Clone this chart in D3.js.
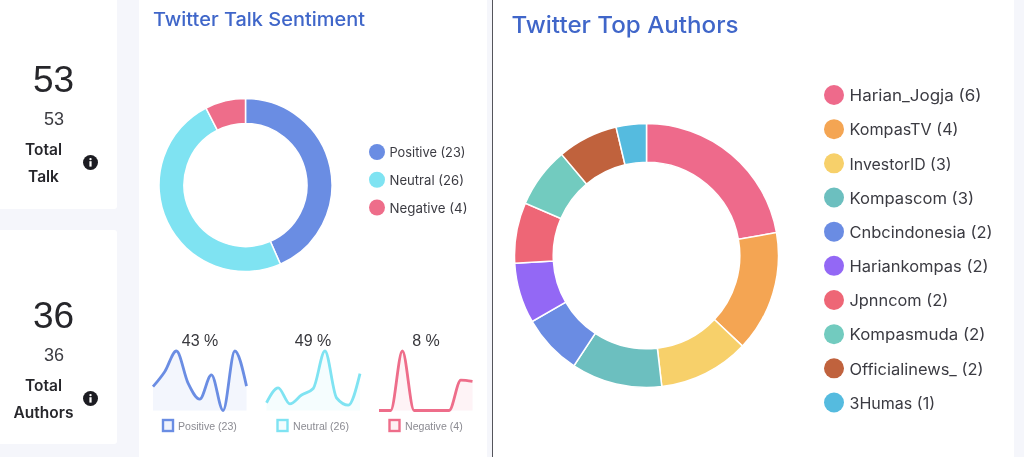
<!DOCTYPE html>
<html>
<head>
<meta charset="utf-8">
<title>Twitter dashboard</title>
<script src="https://d3js.org/d3.v7.min.js"></script>
<style>
	html, body { margin: 0; padding: 0; background: #f5f6fb; overflow: hidden; }
	svg { display: block; }
	.poppins { font-family: Inter, "Noto Sans", sans-serif; }
	.helv { font-family: "Liberation Sans", Arial, sans-serif; }
</style>
</head>
<body>
<div id="chart"></div>
<script>
	// sentiment
	var sentimentNames = ["Positive", "Neutral", "Negative"];
	var sentimentCounts = [23, 26, 4];
	var sentimentColors = ["#6b8de3", "#7fe3f2", "#ee6d8a"];
	var sentimentPercents = ["43 %", "49 %", "8 %"];

	// little area charts under the sentiment donut
	var sparkPositive = [40, 65, 100, 46, 19, 60, 0, 100, 41];
	var sparkNeutral = [13, 38, 11, 26, 37, 100, 21, 9, 62];
	var sparkNegative = [0, 0, 100, 0, 0, 0, 0, 51, 49];
	var sparkSeries = [sparkPositive, sparkNeutral, sparkNegative];

	// authors
	var authorNames = ["Harian_Jogja", "KompasTV", "InvestorID", "Kompascom", "Cnbcindonesia", "Hariankompas", "Jpnncom", "Kompasmuda", "Officialinews_", "3Humas"];
	var authorCounts = [6, 4, 3, 3, 2, 2, 2, 2, 2, 1];
	var authorColors = ["#ee6a8b", "#f4a553", "#f7d06b", "#6cbfbf", "#6b8ce3", "#9368f5", "#ee6676", "#72cbbf", "#c0623e", "#55bbdf"];

	// stat cards
	var statValues = [53, 36];
	var statLabels = [["Total", "Talk"], ["Total", "Authors"]];

	var W = 1024, H = 457;
	var svg = d3.select("#chart").append("svg").attr("width", W).attr("height", H);

	var defs = svg.append("defs");
	var blur = defs.append("filter").attr("id", "soft").attr("x", "-5%").attr("y", "-5%").attr("width", "110%").attr("height", "110%");
	blur.append("feGaussianBlur").attr("stdDeviation", 0.45);

	// panels
	svg.append("rect").attr("width", W).attr("height", H).attr("fill", "#f5f6fb");
	svg.append("rect").attr("x", -10).attr("y", -10).attr("width", 127).attr("height", 219).attr("rx", 3).attr("fill", "#fff");
	svg.append("rect").attr("x", -10).attr("y", 230).attr("width", 127).attr("height", 214).attr("rx", 3).attr("fill", "#fff");
	svg.append("rect").attr("x", 139).attr("y", -5).attr("width", 348).attr("height", H + 10).attr("fill", "#fff");
	svg.append("rect").attr("x", 493).attr("y", -5).attr("width", 521).attr("height", H + 10).attr("fill", "#fff");
	svg.append("line").attr("x1", 492.5).attr("x2", 492.5).attr("y1", 0).attr("y2", H).attr("stroke", "#55555c").attr("stroke-width", 1);

	var g = svg.append("g").attr("filter", "url(#soft)");

	// stat cards
	var statY = [0, 236];
	statValues.forEach(function(v, i) {
		var y = statY[i];
		g.append("text").attr("class", "helv").attr("x", 53.5).attr("y", y + 91.5).attr("text-anchor", "middle")
			.attr("font-size", 37).attr("fill", "#26262b").text(v);
		g.append("text").attr("class", "helv").attr("x", 54).attr("y", y + 124.5).attr("text-anchor", "middle")
			.attr("font-size", 18).attr("fill", "#3c3c42").text(v);
		statLabels[i].forEach(function(t, j) {
			g.append("text").attr("class", "poppins").attr("x", 43.5).attr("y", y + 154.5 + j * 27).attr("text-anchor", "middle")
				.attr("font-size", 15.5).attr("font-weight", 600).attr("fill", "#26262b").text(t);
		});
		var cx = 90.5, cy = y + 162.5;
		g.append("circle").attr("cx", cx).attr("cy", cy).attr("r", 7.5).attr("fill", "#1c1c20");
		g.append("circle").attr("cx", cx).attr("cy", cy - 3.4).attr("r", 1.2).attr("fill", "#fff");
		g.append("rect").attr("x", cx - 1.1).attr("y", cy - 1.3).attr("width", 2.2).attr("height", 5.4).attr("fill", "#fff");
	});

	function title(text, x, y, size, width) {
		g.append("text").attr("class", "poppins").attr("x", x).attr("y", y)
			.attr("font-size", size).attr("font-weight", 500).attr("fill", "#3f66c9")
			.attr("textLength", width).attr("lengthAdjust", "spacingAndGlyphs").text(text);
	}
	title("Twitter Talk Sentiment", 153, 26, 18.5, 212);
	title("Twitter Top Authors", 511.5, 33, 23, 227);

	function donut(values, colors, cx, cy, inner, outer) {
		var pie = d3.pie().sort(null);
		var arc = d3.arc().innerRadius(inner).outerRadius(outer);
		g.append("g").attr("transform", "translate(" + cx + "," + cy + ")")
			.selectAll("path").data(pie(values)).enter().append("path")
			.attr("d", arc)
			.attr("fill", function(d, i) { return colors[i]; })
			.attr("stroke", "#fff").attr("stroke-width", 1.5);
	}
	donut(sentimentCounts, sentimentColors, 245.5, 185, 61.5, 86.5);
	donut(authorCounts, authorColors, 646.5, 255.5, 93.3, 132);

	function legend(names, counts, colors, dotX, textX, y0, y1, r, size, widths) {
		var y = d3.scalePoint().domain(d3.range(names.length)).range([y0, y1]);
		names.forEach(function(n, i) {
			g.append("circle").attr("cx", dotX).attr("cy", y(i)).attr("r", r).attr("fill", colors[i]);
			g.append("text").attr("class", "poppins").attr("x", textX).attr("y", y(i)).attr("dy", "0.4em")
				.attr("font-size", size).attr("fill", "#3b3b42")
				.attr("textLength", widths[i]).attr("lengthAdjust", "spacingAndGlyphs")
				.text(n + " (" + counts[i] + ")");
		});
	}
	legend(sentimentNames, sentimentCounts, sentimentColors, 377, 389.5, 152, 207.5, 8, 13, [76, 74.5, 78]);
	legend(authorNames, authorCounts, authorColors, 834, 849.5, 95, 402.5, 10, 15.5, [132, 109, 102, 124.5, 143, 139, 98.7, 136, 134, 85.5]);

	// small area charts
	var sparkLeft = [153, 266.5, 379];
	var sparkWidth = 93.5;
	var legendSquare = [163, 277.5, 389.5];
	var legendText = [178, 293, 405];
	var percentX = [200, 313, 426];
	var y = d3.scaleLinear().domain([0, 100]).range([410.5, 351]);

	sparkSeries.forEach(function(vals, k) {
		var x = d3.scaleLinear().domain([0, vals.length - 1]).range([sparkLeft[k], sparkLeft[k] + sparkWidth]);
		var line = d3.line().x(function(d, i) { return x(i); }).y(function(d) { return y(d); }).curve(d3.curveMonotoneX);
		var area = d3.area().x(function(d, i) { return x(i); }).y0(y(0)).y1(function(d) { return y(d); }).curve(d3.curveMonotoneX);
		g.append("path").attr("d", area(vals)).attr("fill", sentimentColors[k]).attr("opacity", 0.08);
		g.append("path").attr("d", line(vals)).attr("fill", "none").attr("stroke", sentimentColors[k]).attr("stroke-width", 2.8);
		g.append("text").attr("class", "helv").attr("x", percentX[k]).attr("y", 346).attr("text-anchor", "middle")
			.attr("font-size", 16).attr("fill", "#37373c").text(sentimentPercents[k]);
		g.append("rect").attr("x", legendSquare[k]).attr("y", 420).attr("width", 10).attr("height", 11)
			.attr("fill", sentimentColors[k]).attr("fill-opacity", 0.1)
			.attr("stroke", sentimentColors[k]).attr("stroke-width", 2.4);
		g.append("text").attr("class", "helv").attr("x", legendText[k]).attr("y", 429.5)
			.attr("font-size", 10.6).attr("fill", "#8b8b92")
			.text(sentimentNames[k] + " (" + sentimentCounts[k] + ")");
	});
</script>
</body>
</html>
